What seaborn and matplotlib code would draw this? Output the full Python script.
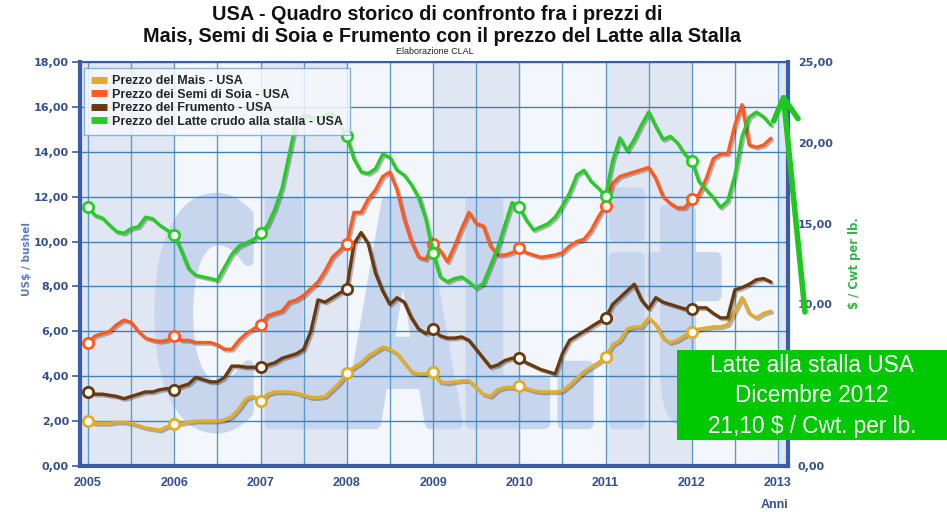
import numpy as np
import pandas as pd
import matplotlib
matplotlib.use("Agg")
import matplotlib.pyplot as plt
import seaborn as sns
import matplotlib.font_manager as fm
from matplotlib import patheffects as pe
from matplotlib.textpath import TextPath
from matplotlib.patches import PathPatch, Rectangle
from matplotlib.transforms import Affine2D, IdentityTransform
from matplotlib.lines import Line2D
from matplotlib.ticker import FuncFormatter

# ---------------- data (monthly, Jan 2005 - Dec 2012) ----------------
years = [2005, 2006, 2007, 2008, 2009, 2010, 2011, 2012]

mais = [
    2.0, 1.9, 1.9, 1.9, 1.95, 1.95, 1.9, 1.8, 1.7, 1.65, 1.6, 1.75,
    1.85, 1.9, 1.95, 2.0, 2.0, 2.0, 2.0, 2.05, 2.2, 2.55, 3.0, 3.1,
    2.9, 3.2, 3.3, 3.3, 3.3, 3.25, 3.15, 3.05, 3.05, 3.1, 3.4, 3.7,
    4.15, 4.4, 4.6, 4.9, 5.1, 5.3, 5.2, 5.0, 4.6, 4.2, 4.1, 4.1,
    4.2, 3.75, 3.7, 3.75, 3.8, 3.8, 3.5, 3.2, 3.1, 3.4, 3.5, 3.5,
    3.55, 3.45, 3.35, 3.3, 3.3, 3.3, 3.35, 3.6, 3.9, 4.2, 4.4, 4.6,
    4.85, 5.4, 5.6, 6.1, 6.2, 6.2, 6.6, 6.3, 5.7, 5.5, 5.6, 5.8,
    5.95, 6.1, 6.15, 6.2, 6.2, 6.3, 6.9, 7.5, 6.8, 6.6, 6.8, 6.9,
]
soia = [
    5.5, 5.8, 5.9, 6.0, 6.3, 6.5, 6.4, 6.0, 5.7, 5.6, 5.55, 5.6,
    5.8, 5.6, 5.6, 5.5, 5.5, 5.5, 5.4, 5.2, 5.2, 5.6, 5.9, 6.1,
    6.3, 6.7, 6.8, 6.9, 7.3, 7.4, 7.6, 7.9, 8.2, 8.7, 9.3, 9.6,
    9.9, 11.3, 11.3, 11.9, 12.3, 12.9, 13.1, 12.3, 11.0, 10.0, 9.3, 9.2,
    9.9, 9.6, 9.1, 9.8, 10.6, 11.3, 10.8, 10.7, 9.8, 9.4, 9.4, 9.5,
    9.7, 9.5, 9.4, 9.3, 9.35, 9.4, 9.5, 9.8, 10.0, 10.1, 10.5, 11.1,
    11.6, 12.6, 12.9, 13.0, 13.1, 13.2, 13.3, 12.8, 12.0, 11.7, 11.5, 11.5,
    11.9, 12.1, 12.8, 13.7, 13.9, 13.9, 15.2, 16.1, 14.3, 14.2, 14.3, 14.6,
]
frumento = [
    3.3, 3.2, 3.2, 3.15, 3.1, 3.0, 3.1, 3.2, 3.3, 3.3, 3.4, 3.45,
    3.4, 3.55, 3.65, 3.95, 3.85, 3.75, 3.75, 3.95, 4.45, 4.45, 4.4, 4.4,
    4.4, 4.5, 4.6, 4.8, 4.9, 5.0, 5.2, 6.0, 7.4, 7.3, 7.5, 7.7,
    7.9, 9.9, 10.4, 9.9, 8.6, 7.8, 7.2, 7.5, 7.3, 6.6, 6.1, 5.9,
    6.1, 5.8, 5.7, 5.7, 5.75, 5.6, 5.2, 4.8, 4.4, 4.5, 4.7, 4.8,
    4.8, 4.6, 4.45, 4.3, 4.2, 4.1, 5.0, 5.6, 5.8, 6.0, 6.2, 6.4,
    6.6, 7.2, 7.5, 7.8, 8.1, 7.4, 7.0, 7.5, 7.3, 7.2, 7.1, 7.0,
    7.0, 7.05, 7.05, 6.8, 6.6, 6.6, 7.85, 7.95, 8.1, 8.3, 8.35, 8.2,
]
latte = [
    16.0, 15.5, 15.35, 14.9, 14.5, 14.4, 14.7, 14.8, 15.4, 15.3, 14.9, 14.6,
    14.3, 13.3, 12.2, 11.8, 11.7, 11.6, 11.5, 12.3, 13.1, 13.6, 13.8, 14.0,
    14.4, 14.9, 15.9, 17.2, 19.3, 21.4, 21.7, 21.6, 21.5, 21.7, 21.8, 21.1,
    20.4, 19.0, 18.2, 18.1, 18.4, 19.3, 19.1, 18.3, 18.0, 17.4, 16.6, 15.3,
    13.2, 11.7, 11.4, 11.6, 11.7, 11.4, 11.0, 11.3, 12.4, 13.5, 14.9, 16.3,
    16.0, 15.2, 14.6, 14.8, 15.0, 15.4, 16.1, 16.9, 18.0, 18.3, 17.6, 17.2,
    16.7, 18.9, 20.3, 19.5, 20.2, 21.1, 21.9, 21.0, 20.2, 20.4, 20.0, 19.3,
    18.9, 17.6, 17.1, 16.6, 16.0, 16.4, 18.0, 20.4, 21.6, 21.9, 21.6, 21.1,
]

series_names = ["Prezzo del Mais - USA", "Prezzo dei Semi di Soia - USA",
                "Prezzo del Frumento - USA", "Prezzo del Latte crudo alla stalla - USA"]
series_colors = ["#e0ac2a", "#ff5a1f", "#6a3a0e", "#27cc27"]

left_ticks = [0, 2, 4, 6, 8, 10, 12, 14, 16, 18]
right_ticks = [0, 10, 15, 20, 25]   # the 5,00 label is hidden under the info box in the reference
x_ticks = [2005, 2006, 2007, 2008, 2009, 2010, 2011, 2012, 2013]

title_1 = "USA - Quadro storico di confronto fra i prezzi di"
title_2 = "Mais, Semi di Soia e Frumento con il prezzo del Latte alla Stalla"
subtitle = "Elaborazione CLAL"
box_lines = ["Latte alla stalla USA", "Dicembre 2012", "21,10 $ / Cwt. per lb."]

# ---------------- tables ----------------
months = [y + m / 12 for y in years for m in range(12)]
df_left = pd.DataFrame({
    "anno": months * 3,
    "valore": mais + soia + frumento,
    "serie": [series_names[0]] * 96 + [series_names[1]] * 96 + [series_names[2]] * 96,
})
df_right = pd.DataFrame({"anno": months, "valore": latte, "serie": series_names[3]})

# ---------------- style ----------------
sns.set_style("white")
plt.rcParams["font.family"] = ["DejaVu Sans"]

W, H = 947, 512
fig = plt.figure(figsize=(W / 100, H / 100), dpi=100)
fig.patch.set_facecolor("white")

ax_l, ax_r, ax_t, ax_b = 80, 788, 62, 466
ax = fig.add_axes([ax_l / W, 1 - ax_b / H, (ax_r - ax_l) / W, (ax_b - ax_t) / H])
ax2 = ax.twinx()

xmin = 2005 - 8 / 86.25
xmax = 2013 + 10 / 86.25
ax.set_xlim(xmin, xmax)
ax.set_ylim(0, 18)
ax2.set_ylim(0, 25)

# alternating year bands
dark, light = "#e0e7f3", "#f3f7fb"
edges = [xmin, 2006, 2007, 2008, 2009, 2010, 2011, 2012, 2013, xmax]
for i in range(len(edges) - 1):
    ax.axvspan(edges[i], edges[i + 1], color=dark if i % 2 == 0 else light, zorder=0, lw=0)

# watermark CLAL.it (fattened with a stroke)
tp = TextPath((0, 0), "CLAL.it", size=1, prop=fm.FontProperties(family="DejaVu Sans", weight="bold"))
bb = tp.get_extents()
wx0, wx1, wy0, wy1 = 160, 716, H - 428, H - 193
tr = Affine2D().translate(-bb.x0, -bb.y0).scale((wx1 - wx0) / bb.width, (wy1 - wy0) / bb.height).translate(wx0, wy0)
wm = PathPatch(tr.transform_path(tp), facecolor="#c7d5ed", edgecolor="#c7d5ed", lw=8,
               joinstyle="round", transform=IdentityTransform(), zorder=0.6)
ax.add_patch(wm)

# grid
for k in range(0, 17):
    ax.axvline(2005 + k * 0.5, color="#5f9bc8", lw=1, zorder=1)
for t in left_ticks[1:]:
    ax.axhline(t, color="#3f82ba", lw=1, zorder=1)

# lines
shadow = [pe.SimpleLineShadow(offset=(1.2, -1.2), shadow_color="#000000", alpha=0.28), pe.Normal()]
sns.lineplot(data=df_left, x="anno", y="valore", hue="serie", palette=series_colors[:3],
             hue_order=series_names[:3], ax=ax, linewidth=2.4, legend=False, zorder=3)
sns.lineplot(data=df_right, x="anno", y="valore", color=series_colors[3], ax=ax2,
             linewidth=2.4, legend=False, zorder=3)
for ln in ax.lines[-3:] + ax2.lines:
    ln.set_path_effects(shadow)
    ln.set_solid_joinstyle("round")

# January markers
jan_left = df_left[(df_left["anno"] % 1) == 0]
for name, col in zip(series_names[:3], series_colors[:3]):
    sub = jan_left[jan_left["serie"] == name]
    sns.scatterplot(data=sub, x="anno", y="valore", ax=ax, color="white", edgecolor=col,
                    s=55, linewidth=2, zorder=4, legend=False)
jan_right = df_right[(df_right["anno"] % 1) == 0]
sns.scatterplot(data=jan_right, x="anno", y="valore", ax=ax2, color="white", edgecolor=series_colors[3],
                s=55, linewidth=2, zorder=4, legend=False)

# axes formatting
fmt = FuncFormatter(lambda v, p: f"{v:.2f}".replace(".", ","))
ax.set_yticks(left_ticks)
ax.yaxis.set_major_formatter(fmt)
ax2.set_yticks(right_ticks)
ax2.yaxis.set_major_formatter(fmt)
ax.set_xticks(x_ticks)
ax.set_xticklabels([str(x) for x in x_ticks])
ax.set_xlabel("")
ax.set_ylabel("")
ax2.set_ylabel("")

tick_col = "#34508f"
spine_col = "#3a5ca8"
ax.tick_params(axis="y", length=6, width=1.2, color=spine_col, pad=2, labelsize=8, labelcolor=tick_col)
ax.tick_params(axis="x", length=5, width=1.2, color=spine_col, pad=3, labelcolor=tick_col)
ax2.tick_params(axis="y", length=0, pad=7, labelsize=8, labelcolor=tick_col)
for lbl in ax.get_yticklabels() + ax2.get_yticklabels():
    lbl.set_fontweight("bold")
for lbl in ax.get_xticklabels():
    lbl.set_fontweight("bold")
    lbl.set_family("Liberation Sans")
    lbl.set_fontsize(9)

for s in ["left", "bottom", "right"]:
    ax.spines[s].set_linewidth(3)
    ax.spines[s].set_color(spine_col)
ax.spines["top"].set_linewidth(1.5)
ax.spines["top"].set_color(spine_col)
for s in ax2.spines.values():
    s.set_visible(False)

# legend
handles = [Line2D([], [], color=c, lw=5, solid_capstyle="butt") for c in series_colors]
leg = ax2.legend(handles, series_names, loc="upper left", bbox_to_anchor=(0.006, 0.985),
                 borderaxespad=0, frameon=True, fancybox=False, framealpha=0.85,
                 facecolor="#f6f9fd", edgecolor="#7aa6d0", handlelength=1.3, handletextpad=0.4,
                 labelspacing=0.13, borderpad=0.55,
                 prop=fm.FontProperties(family="Liberation Sans", weight="bold", size=9))
leg.get_frame().set_linewidth(1)
leg.set_zorder(10)

# titles
fig.text(437 / W, 1 - 15 / H, title_1, ha="center", va="center", fontsize=14.3,
         fontweight="bold", family="Liberation Sans", color="#111111")
fig.text(442 / W, 1 - 36 / H, title_2, ha="center", va="center", fontsize=14.3,
         fontweight="bold", family="Liberation Sans", color="#111111")
fig.text(435 / W, 1 - 52 / H, subtitle, ha="center", va="center", fontsize=6.5,
         family="Liberation Sans", color="#222222")

# axis labels
fig.text(27 / W, 1 - 259 / H, "US$ / bushel", rotation=90, ha="center", va="center",
         fontsize=7.6, fontweight="bold", color="#5b7cc2")
fig.text(854 / W, 1 - 263 / H, "$ / Cwt per lb.", rotation=90, ha="center", va="center",
         fontsize=8.4, fontweight="bold", color="#33b548")
fig.text(775 / W, 1 - 505 / H, "Anni", ha="center", va="center", fontsize=9,
         fontweight="bold", family="Liberation Sans", color=tick_col)

# green info box
fig.add_artist(Rectangle((677 / W, 1 - 440 / H), (W - 677) / W, 90 / H, transform=fig.transFigure,
                         facecolor="#00c800", edgecolor="none", zorder=20))
fig.text(812 / W, 1 - 396 / H, "\n".join(box_lines), ha="center", va="center", fontsize=16.3,
         family="Liberation Sans", color="white", linespacing=1.4, multialignment="center", zorder=21)

# green arrow
ax2.annotate("", xy=(783, H - 92), xycoords="figure pixels",
             xytext=(805, H - 312), textcoords="figure pixels",
             arrowprops=dict(arrowstyle="->,head_length=1.0,head_width=0.55", lw=4,
                             color="#1ec81e", mutation_scale=16, shrinkA=0, shrinkB=0),
             annotation_clip=False, zorder=15)

fig.savefig("out.png", dpi=100)
